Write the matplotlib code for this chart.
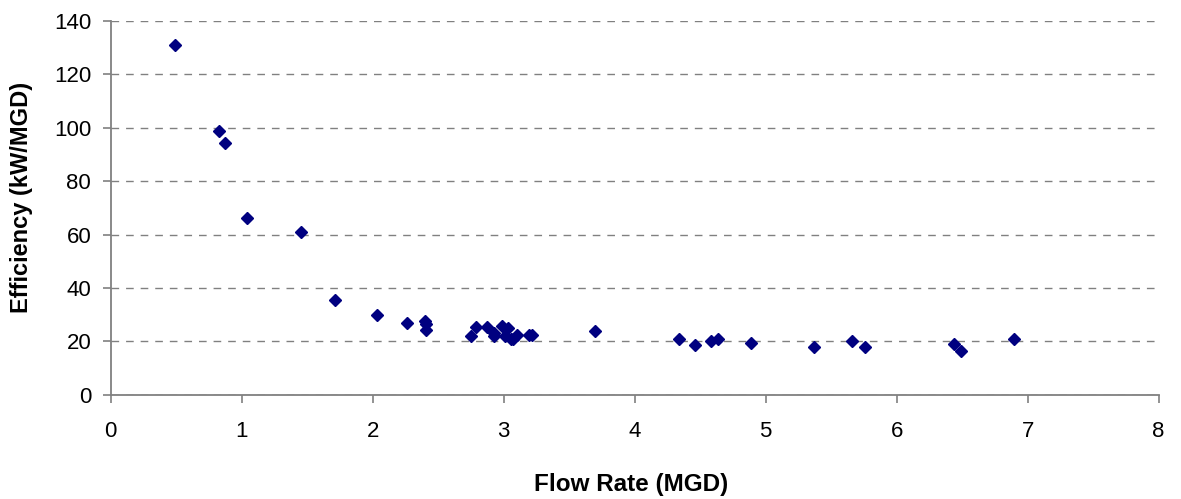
import matplotlib.pyplot as plt

plt.rcParams['font.family'] = ['Liberation Sans', 'DejaVu Sans']

flow = [0.49, 0.83, 0.87, 1.04, 1.45, 1.71, 2.03, 2.26, 2.40, 2.41, 2.41,
        2.75, 2.79, 2.87, 2.93, 2.93, 2.99, 3.01, 3.03, 3.06, 3.07, 3.10,
        3.19, 3.22, 3.70, 4.34, 4.46, 4.58, 4.64, 4.89, 5.37, 5.66, 5.76,
        6.44, 6.49, 6.90]
efficiency = [131, 98.9, 94.3, 66.1, 61, 35.5, 30.0, 26.9, 27.5, 26.5, 24.4,
              21.9, 25.5, 25.5, 23.2, 22.0, 25.9, 22.0, 24.9, 20.8, 20.7, 22.4,
              22.5, 22.3, 24.0, 20.9, 18.6, 20.2, 21.0, 19.5, 18.0, 20.2, 18.0,
              18.9, 16.5, 21.0]

fig = plt.figure(figsize=(11.81, 4.99), dpi=100)
ax = fig.add_axes([0.0937, 0.209, 0.8873, 0.749])

ax.plot(flow, efficiency, linestyle='none', marker='D', markersize=6.3,
        color='#000080', markeredgecolor='#000080')

ax.set_xlim(0, 8)
ax.set_ylim(0, 140)
ax.set_xticks(range(0, 9))
ax.set_yticks(range(0, 141, 20))
ax.yaxis.grid(True, linestyle=(0, (5.5, 5)), color='#808080', linewidth=1)
ax.set_axisbelow(True)

for s in ['top', 'right']:
    ax.spines[s].set_visible(False)
for s in ['left', 'bottom']:
    ax.spines[s].set_color('#808080')
    ax.spines[s].set_linewidth(1.3)
ax.tick_params(colors='#808080', labelcolor='black', labelsize=16, length=6, width=1.2)
ax.tick_params(axis='x', pad=13)
ax.tick_params(axis='y', pad=8)

ax.set_xlabel('Flow Rate (MGD)', fontsize=17.5, fontweight='bold')
ax.set_ylabel('Efficiency (kW/MGD)', fontsize=17, fontweight='bold')
ax.xaxis.set_label_coords(0.497, -0.24)
ax.xaxis.label.set_va('center')
ax.yaxis.set_label_coords(-0.085, 0.528)
ax.yaxis.label.set_va('center')

fig.savefig('out.png', dpi=100)
